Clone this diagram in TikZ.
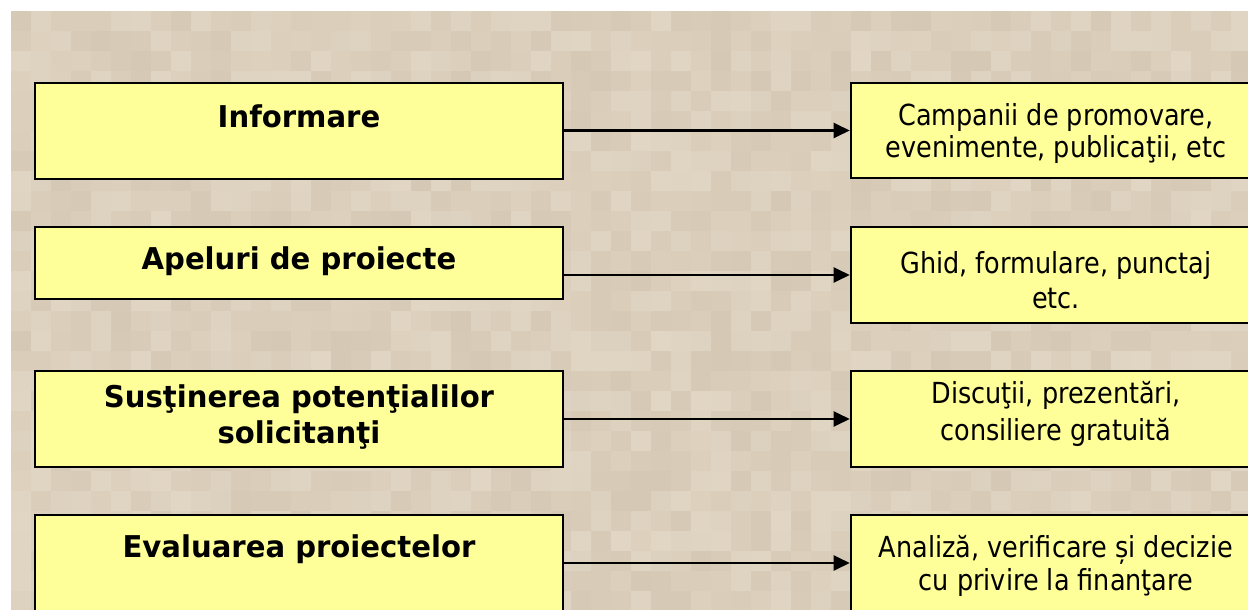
\documentclass[tikz,border=0pt]{standalone}
\usepackage{fontspec}
\newfontfamily\regf{DejaVu Sans}[FakeStretch=0.88]
\newfontfamily\boldf{DejaVu Sans}[FakeStretch=0.97]
\usetikzlibrary{arrows.meta}
\definecolor{boxyellow}{RGB}{255,255,153}
\definecolor{bgL}{RGB}{225,214,196}
\definecolor{bgD}{RGB}{213,200,180}
\begin{document}
\begin{tikzpicture}[x=1pt,y=-1pt,
  box/.style={draw=black,line width=2.6pt,fill=boxyellow,inner sep=0pt},
  lbox/.style={box,minimum width=528},
  rbox/.style={box,minimum width=410},
  ltext/.style={font=\boldf\bfseries\fontsize{30}{#1}\selectfont,inner sep=0pt,anchor=base},
  rtext/.style={font=\regf\fontsize{29}{#1}\selectfont,inner sep=0pt,anchor=base},
  arr/.style={line width=2.3pt,-{Triangle[length=16pt,width=15pt]}}]
\useasboundingbox (0,0) rectangle (1248,610);
\fill[white] (0,0) rectangle (1248,610);
\begin{scope}
\clip (11,11) rectangle (1248,610);
\pgfmathsetseed{3}
\foreach \i in {0,...,61}{\foreach \j in {0,...,29}{
  \pgfmathtruncatemacro\p{rnd*100}
  \fill[bgL!\p!bgD] ({11+20*\i},{11+20*\j}) rectangle ++(20,20);
}}
\end{scope}
% left boxes
\node[lbox,minimum height=96] (L1) at (299,131) {};
\node[lbox,minimum height=72] (L2) at (299,263) {};
\node[lbox,minimum height=96] (L3) at (299,419) {};
\node[lbox,minimum height=96] (L4) at (299,563) {};
% right boxes
\node[rbox,minimum height=95] (R1) at (1056,130.5) {};
\node[rbox,minimum height=96] (R2) at (1056,275) {};
\node[rbox,minimum height=96] (R3) at (1056,419) {};
\node[rbox,minimum height=96] (R4) at (1056,563) {};
% texts
\node[ltext=36] (T1) at (299,127) {Informare};
\node[ltext=36] (T2) at (299,269) {Apeluri de proiecte};
\node[ltext=36] (T3) at (299,407) {\parbox[t]{520pt}{\centering Susţinerea potenţialilor\\solicitanţi}};
\node[ltext=36] (T4) at (299,557) {Evaluarea proiectelor};
\node[rtext=32] (S1) at (1056,125) {\parbox[t]{400pt}{\centering Campanii de promovare,\\evenimente, publicaţii, etc}};
\node[rtext=35] (S2) at (1056,273) {\parbox[t]{400pt}{\centering Ghid, formulare, punctaj\\etc.}};
\node[rtext=37] (S3) at (1056,403) {\parbox[t]{400pt}{\centering Discuţii, prezentări,\\consiliere gratuită}};
\node[rtext=33] (S4) at (1056,557) {\parbox[t]{400pt}{\centering Analiză, verificare și decizie\\cu privire la finanţare}};
% arrows
\draw[arr] (L1.east |- R1.west) -- (R1.west);
\draw[arr] (L2.east |- R2.west) -- (R2.west);
\draw[arr] (L3.east |- R3.west) -- (R3.west);
\draw[arr] (L4.east |- R4.west) -- (R4.west);
\end{tikzpicture}
\end{document}
